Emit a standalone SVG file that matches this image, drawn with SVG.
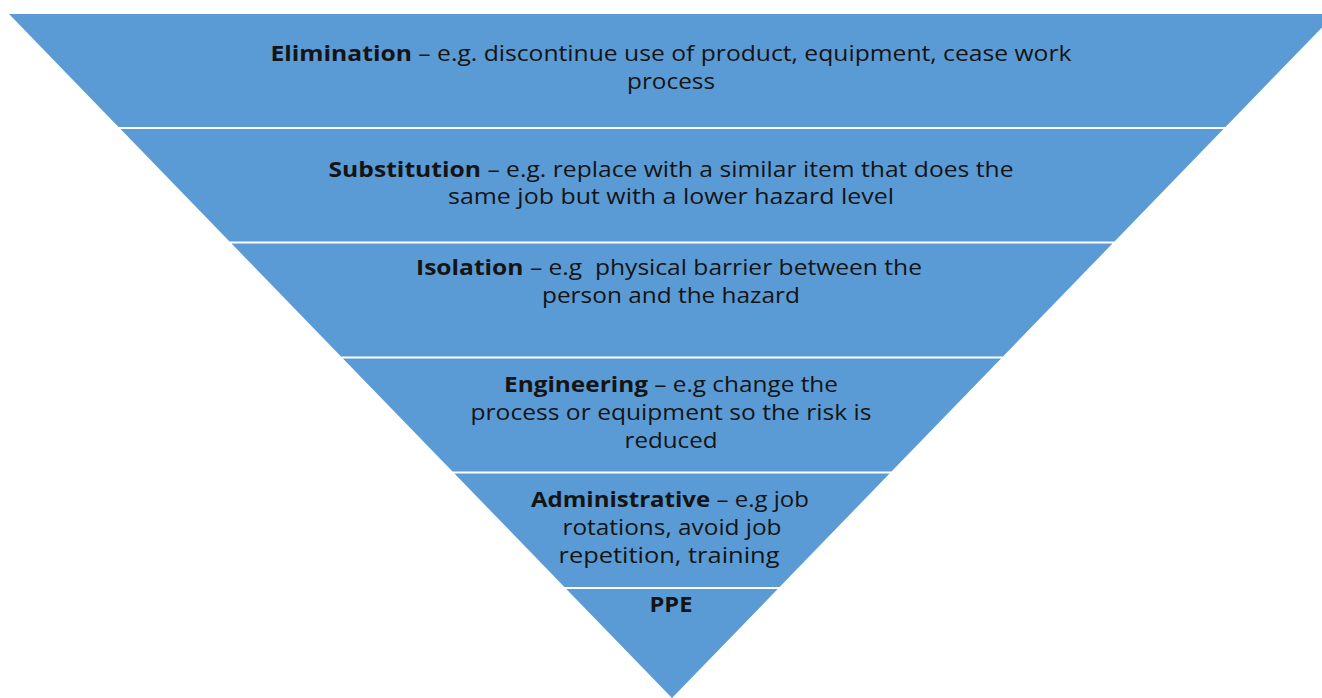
<svg xmlns="http://www.w3.org/2000/svg" width="1322" height="698" viewBox="0 0 1322 698">
<style>
.band{fill:#5B9BD5}
text{font-family:"Open Sans","Liberation Sans",sans-serif;font-size:21px;fill:#141414;text-anchor:middle}
.b{font-weight:700}
</style>
<rect width="1322" height="698" fill="#FFFFFF"/>
<g id="elimination">
<polygon class="band" points="9,14 1335,14 1225.5,127 118.5,127"/>
<text x="671" y="61" textLength="801" lengthAdjust="spacingAndGlyphs"><tspan class="b">Elimination</tspan> – e.g. discontinue use of product, equipment, cease work</text>
<text x="671" y="89" textLength="88" lengthAdjust="spacingAndGlyphs">process</text>
</g>
<g id="substitution">
<polygon class="band" points="120.5,129 1223.5,129 1114.5,241.5 229.5,241.5"/>
<text x="671" y="177" textLength="685" lengthAdjust="spacingAndGlyphs"><tspan class="b">Substitution</tspan> – e.g. replace with a similar item that does the</text>
<text x="671" y="204" textLength="446" lengthAdjust="spacingAndGlyphs">same job but with a lower hazard level</text>
</g>
<g id="isolation">
<polygon class="band" points="231.5,243.5 1112.5,243.5 1003,356.5 341,356.5"/>
<text x="669" y="275" textLength="506" lengthAdjust="spacingAndGlyphs" xml:space="preserve"><tspan class="b">Isolation</tspan> – e.g  physical barrier between the</text>
<text x="671" y="303" textLength="258" lengthAdjust="spacingAndGlyphs">person and the hazard</text>
</g>
<g id="engineering">
<polygon class="band" points="342.9,358.5 1001.1,358.5 891.5,471.5 452.5,471.5"/>
<text x="671" y="392" textLength="334" lengthAdjust="spacingAndGlyphs"><tspan class="b">Engineering</tspan> – e.g change the</text>
<text x="671" y="420" textLength="401" lengthAdjust="spacingAndGlyphs">process or equipment so the risk is</text>
<text x="671" y="448" textLength="93" lengthAdjust="spacingAndGlyphs">reduced</text>
</g>
<g id="administrative">
<polygon class="band" points="454.4,473.5 889.6,473.5 779.6,587 564.4,587"/>
<text x="670" y="507" textLength="278" lengthAdjust="spacingAndGlyphs"><tspan class="b">Administrative</tspan> – e.g job</text>
<text x="672" y="535" textLength="219" lengthAdjust="spacingAndGlyphs">rotations, avoid job</text>
<text x="669" y="563" textLength="221" lengthAdjust="spacingAndGlyphs">repetition, training</text>
</g>
<g id="ppe">
<polygon class="band" points="566.3,589 777.7,589 672,698"/>
<text x="671" y="612" class="b" textLength="43" lengthAdjust="spacingAndGlyphs">PPE</text>
</g>
<g id="connectors"/>
</svg>
